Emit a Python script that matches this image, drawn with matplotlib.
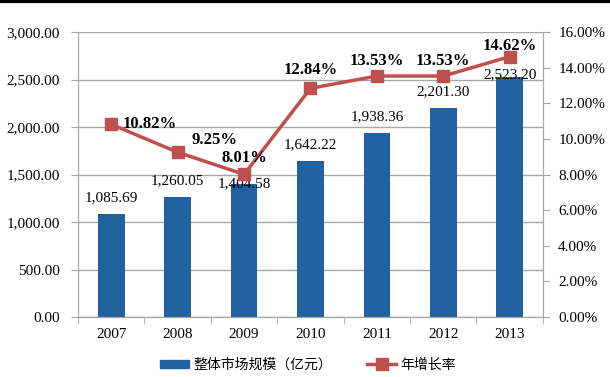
import matplotlib
matplotlib.use('Agg')
import matplotlib.pyplot as plt
import numpy as np
from matplotlib.lines import Line2D
from matplotlib.patches import Patch

years = ['2007', '2008', '2009', '2010', '2011', '2012', '2013']
market_size = [1085.69, 1260.05, 1404.58, 1642.22, 1938.36, 2201.30, 2523.20]
growth_rate = [10.82, 9.25, 8.01, 12.84, 13.53, 13.53, 14.62]
left_ticks = [0, 500, 1000, 1500, 2000, 2500, 3000]
right_ticks = [0, 2, 4, 6, 8, 10, 12, 14, 16]

bar_color = '#2161A0'
line_color = '#C0504D'
grid_color = '#A6A6A6'
serif = ['Liberation Serif', 'DejaVu Serif']
cjk = ['Noto Sans CJK SC', 'DejaVu Sans']

fig = plt.figure(figsize=(6.1, 3.77), dpi=100)
ax = fig.add_axes([0.128, 0.159, 0.762, 0.756])
ax2 = ax.twinx()

x = np.arange(len(years))
ax.bar(x, market_size, width=0.4, color=bar_color, zorder=2)
ax.set_xlim(-0.5, len(years) - 0.5)
ax.set_ylim(0, 3000)
ax.set_yticks(left_ticks)
ax.set_yticklabels(['{:,.2f}'.format(v) for v in left_ticks], family=serif, fontsize=11)
ax.yaxis.grid(True, color=grid_color, lw=1)
ax.set_axisbelow(True)
ax.set_xticks(x)
ax.set_xticklabels(years, family=serif, fontsize=11)
ax.set_xticks(np.arange(len(years) + 1) - 0.5, minor=True)
ax.tick_params(axis='x', which='major', length=0, pad=8)
ax.tick_params(axis='x', which='minor', length=5, color=grid_color)
ax.tick_params(axis='y', length=5, color=grid_color, pad=8)

for a in (ax, ax2):
    for s in a.spines.values():
        s.set_color(grid_color)
    a.spines['top'].set_visible(False)

# bar value labels (offset in points)
bar_offsets = [12, 12, 0, 12, 12, 12, 2]
for xi, v, off in zip(x, market_size, bar_offsets):
    ax.annotate('{:,.2f}'.format(v), (xi, v), xytext=(0, off), textcoords='offset points',
                ha='center', va='center', family=serif, fontsize=11, zorder=5)

ax2.plot(x, growth_rate, color=line_color, lw=2.5, marker='s', markersize=8.5, zorder=4)
ax2.set_ylim(0, 16)
ax2.set_yticks(right_ticks)
ax2.set_yticklabels(['{:.2f}%'.format(v) for v in right_ticks], family=serif, fontsize=11)
ax2.tick_params(axis='y', length=5, color=grid_color, pad=6)

line_offsets = [(8, 0, 'left'), (10, 9, 'left'), (0, 12, 'center'), (0, 13, 'center'),
                (0, 11, 'center'), (0, 11, 'center'), (0, 8, 'center')]
for xi, v, (dx, dy, ha) in zip(x, growth_rate, line_offsets):
    ax2.annotate('{:.2f}%'.format(v), (xi, v), xytext=(dx, dy), textcoords='offset points',
                 ha=ha, va='center', family=serif, fontsize=12, fontweight='bold', zorder=6)

handles = [Patch(color=bar_color),
           Line2D([], [], color=line_color, lw=2.5, marker='s', markersize=8)]
fig.legend(handles, ['整体市场规模（亿元）', '年增长率'], loc='center', bbox_to_anchor=(0.505, 0.032),
           ncol=2, frameon=False, prop={'family': cjk, 'size': 10}, handlelength=2.1,
           handleheight=0.6, handletextpad=0.3, columnspacing=2.5)

# black band across the top of the picture
fig.add_artist(Line2D([0, 1], [0.997, 0.997], color='black', lw=3, transform=fig.transFigure))

fig.savefig('out.png', dpi=100)
